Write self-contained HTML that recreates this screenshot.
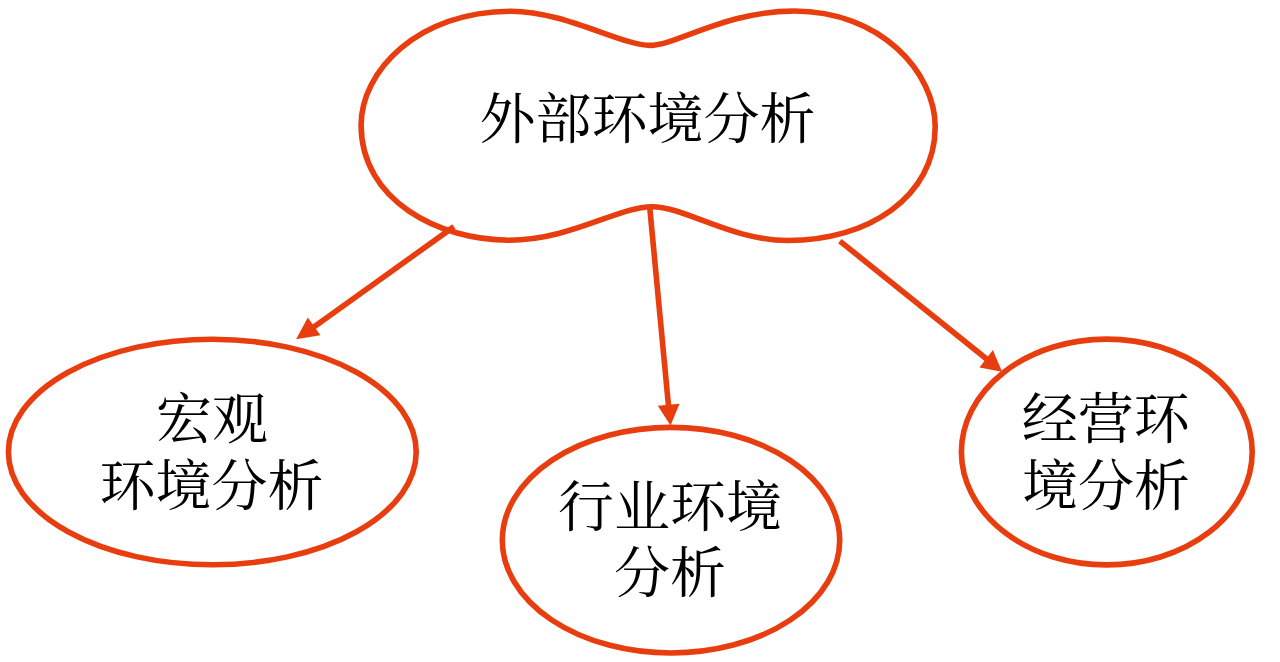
<!DOCTYPE html>
<html lang="zh-CN">
<head>
<meta charset="utf-8">
<title>外部环境分析</title>
<style>
html,body{margin:0;padding:0;background:#fff;}
body{width:1280px;height:662px;overflow:hidden;position:relative;}
svg{position:absolute;left:0;top:0;display:block;}
.s{fill:none;stroke:#E83E0F;stroke-width:5.6;}
.a{fill:#E83E0F;stroke:none;}
text{font-family:"Liberation Serif","Noto Serif CJK SC",serif;font-size:56px;font-weight:400;fill:#000;text-anchor:middle;}
</style>
</head>
<body>
<svg width="1280" height="662" viewBox="0 0 1280 662">
  <!-- top peanut shape -->
  <path class="s" d="M511.3 11.2 C564.3 11.2 621.2 45.4 650.2 45.4 C676.2 45.4 726.2 11 794.2 11 C880.4 11.0 935.2 72.2 935.2 126.8 C935.2 196.8 868 240.5 788 240.5 C731 240.5 685 206.7 652 206.7 C618 206.7 570.8 240.2 508.8 240.2 C438.8 240.2 361.1 200.4 361.1 125.0 C361.1 71 418 11.2 511.3 11.2 Z"/>
  <!-- ellipses -->
  <ellipse class="s" cx="212.3" cy="452" rx="203.9" ry="112.8"/>
  <ellipse class="s" cx="671" cy="540.2" rx="168.7" ry="112.8"/>
  <ellipse class="s" cx="1106.8" cy="452" rx="145.4" ry="112.9"/>
  <!-- arrows -->
  <line class="s" x1="453.9" y1="226.6" x2="310" y2="329.8"/>
  <polygon class="a" points="296.1,339.2 307.8,317.5 320.4,335.2"/>
  <line class="s" x1="649.7" y1="207" x2="668.7" y2="408"/>
  <polygon class="a" points="670.5,425.6 657.8,405.8 679.6,403.8"/>
  <line class="s" x1="839.9" y1="241.1" x2="988.2" y2="360.2"/>
  <polygon class="a" points="1002.1,371.7 979.4,367.4 992.9,350.1"/>
  <!-- labels -->
  <text transform="translate(647.5 138.4) scale(1 0.977)">外部环境分析</text>
  <text transform="translate(212 437.6) scale(1 0.977)">宏观</text>
  <text transform="translate(211.4 505.1) scale(1 0.977)">环境分析</text>
  <text transform="translate(670 526.2) scale(1 0.977)">行业环境</text>
  <text transform="translate(670 592.4) scale(1 0.977)">分析</text>
  <text transform="translate(1105.8 437.9) scale(1 0.977)">经营环</text>
  <text transform="translate(1105.9 505.1) scale(1 0.977)">境分析</text>
</svg>
</body>
</html>
